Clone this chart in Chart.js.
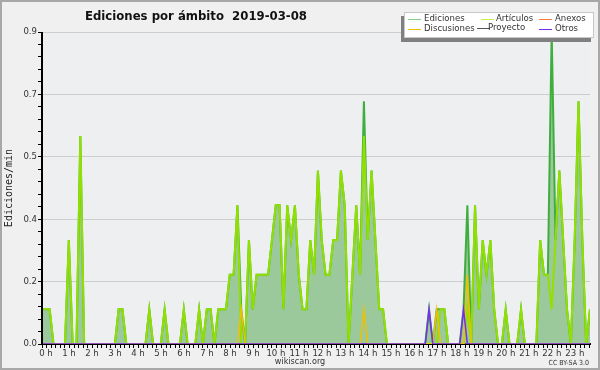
<!DOCTYPE html>
<html lang="es">
<head>
  <meta charset="UTF-8">
  <title>Ediciones por ámbito 2019-03-08</title>
  <script src="https://cdn.jsdelivr.net/npm/chart.js"></script>
  <style>
    body { margin: 0; background: #fff; }
    #wrap { width: 600px; height: 370px; }
  </style>
</head>
<body>
  <div id="wrap"><canvas id="chart" width="600" height="370"></canvas></div>

  <script>
    // 10-minute bins, 00:00 .. 23:50 (values in edits per minute)
    const hourLabels = ['0 h', '1 h', '2 h', '3 h', '4 h', '5 h', '6 h', '7 h', '8 h', '9 h', '10 h', '11 h',
                        '12 h', '13 h', '14 h', '15 h', '16 h', '17 h', '18 h', '19 h', '20 h', '21 h', '22 h', '23 h'];
    const yTickLabels = ['0.0', '0.2', '0.4', '0.5', '0.7', '0.9'];

    const ediciones = [
      0.1, 0.1, 0.1, 0, 0, 0, 0, 0.3, 0, 0, 0.6, 0,
      0, 0, 0, 0, 0, 0, 0, 0, 0.1, 0.1, 0, 0,
      0, 0, 0, 0, 0.1, 0, 0, 0, 0.1, 0, 0, 0,
      0, 0.1, 0, 0, 0, 0.1, 0, 0.1, 0.1, 0, 0.1, 0.1,
      0.1, 0.2, 0.2, 0.4, 0.1, 0, 0.3, 0.1, 0.2, 0.2, 0.2, 0.2,
      0.3, 0.4, 0.4, 0.1, 0.4, 0.3, 0.4, 0.2, 0.1, 0.1, 0.3, 0.2,
      0.5, 0.3, 0.2, 0.2, 0.3, 0.3, 0.5, 0.4, 0, 0.2, 0.4, 0.2,
      0.7, 0.3, 0.5, 0.3, 0.1, 0.1, 0, 0, 0, 0, 0, 0,
      0, 0, 0, 0, 0, 0.1, 0, 0.1, 0.1, 0.1, 0, 0,
      0, 0, 0.1, 0.4, 0, 0.4, 0.1, 0.3, 0.2, 0.3, 0.1, 0,
      0, 0.1, 0, 0, 0, 0.1, 0, 0, 0, 0, 0.3, 0.2,
      0.2, 0.9, 0.3, 0.5, 0.3, 0.1, 0, 0.3, 0.7, 0.3, 0, 0.1
    ];
    const articulos = [
      0.1, 0.1, 0.1, 0, 0, 0, 0, 0.3, 0, 0, 0.6, 0,
      0, 0, 0, 0, 0, 0, 0, 0, 0.1, 0.1, 0, 0,
      0, 0, 0, 0, 0.1, 0, 0, 0, 0.1, 0, 0, 0,
      0, 0.1, 0, 0, 0, 0.1, 0, 0.1, 0.1, 0, 0.1, 0.1,
      0.1, 0.2, 0.2, 0.4, 0, 0, 0.3, 0.1, 0.2, 0.2, 0.2, 0.2,
      0.3, 0.4, 0.4, 0.1, 0.4, 0.3, 0.4, 0.2, 0.1, 0.1, 0.3, 0.2,
      0.5, 0.3, 0.2, 0.2, 0.3, 0.3, 0.5, 0.4, 0, 0.2, 0.4, 0.2,
      0.6, 0.3, 0.5, 0.3, 0.1, 0.1, 0, 0, 0, 0, 0, 0,
      0, 0, 0, 0, 0, 0, 0, 0, 0.1, 0.1, 0, 0,
      0, 0, 0, 0.1, 0, 0.4, 0.1, 0.3, 0.2, 0.3, 0.1, 0,
      0, 0.1, 0, 0, 0, 0.1, 0, 0, 0, 0, 0.3, 0.2,
      0.2, 0.1, 0.3, 0.5, 0.3, 0.1, 0, 0.3, 0.7, 0.3, 0, 0.1
    ];
    const anexos = [
      0, 0, 0, 0, 0, 0, 0, 0, 0, 0, 0, 0,
      0, 0, 0, 0, 0, 0, 0, 0, 0, 0, 0, 0,
      0, 0, 0, 0, 0, 0, 0, 0, 0, 0, 0, 0,
      0, 0, 0, 0, 0, 0, 0, 0, 0, 0, 0, 0,
      0, 0, 0, 0, 0, 0, 0, 0, 0, 0, 0, 0,
      0, 0, 0, 0, 0, 0, 0, 0, 0, 0, 0, 0,
      0, 0, 0, 0, 0, 0, 0, 0, 0, 0, 0, 0,
      0, 0, 0, 0, 0, 0, 0, 0, 0, 0, 0, 0,
      0, 0, 0, 0, 0, 0, 0, 0, 0, 0, 0, 0,
      0, 0, 0, 0, 0, 0, 0, 0, 0, 0, 0, 0,
      0, 0, 0, 0, 0, 0, 0, 0, 0, 0, 0, 0,
      0, 0, 0, 0, 0, 0, 0, 0, 0, 0, 0, 0
    ];
    const discusiones = [
      0, 0, 0, 0, 0, 0, 0, 0, 0, 0, 0, 0,
      0, 0, 0, 0, 0, 0, 0, 0, 0, 0, 0, 0,
      0, 0, 0, 0, 0, 0, 0, 0, 0, 0, 0, 0,
      0, 0, 0, 0, 0, 0, 0, 0, 0, 0, 0, 0,
      0, 0, 0, 0, 0.1, 0, 0, 0, 0, 0, 0, 0,
      0, 0, 0, 0, 0, 0, 0, 0, 0, 0, 0, 0,
      0, 0, 0, 0, 0, 0, 0, 0, 0, 0, 0, 0,
      0.1, 0, 0, 0, 0, 0, 0, 0, 0, 0, 0, 0,
      0, 0, 0, 0, 0, 0, 0, 0.1, 0, 0, 0, 0,
      0, 0, 0, 0.2, 0, 0, 0, 0, 0, 0, 0, 0,
      0, 0, 0, 0, 0, 0, 0, 0, 0, 0, 0, 0,
      0, 0, 0, 0, 0, 0, 0, 0, 0, 0, 0, 0
    ];
    const proyecto = [
      0, 0, 0, 0, 0, 0, 0, 0, 0, 0, 0, 0,
      0, 0, 0, 0, 0, 0, 0, 0, 0, 0, 0, 0,
      0, 0, 0, 0, 0, 0, 0, 0, 0, 0, 0, 0,
      0, 0, 0, 0, 0, 0, 0, 0, 0, 0, 0, 0,
      0, 0, 0, 0, 0, 0, 0, 0, 0, 0, 0, 0,
      0, 0, 0, 0, 0, 0, 0, 0, 0, 0, 0, 0,
      0, 0, 0, 0, 0, 0, 0, 0, 0, 0, 0, 0,
      0, 0, 0, 0, 0, 0, 0, 0, 0, 0, 0, 0,
      0, 0, 0, 0, 0, 0, 0, 0, 0, 0, 0, 0,
      0, 0, 0, 0, 0, 0, 0, 0, 0, 0, 0, 0,
      0, 0, 0, 0, 0, 0, 0, 0, 0, 0, 0, 0,
      0, 0, 0, 0, 0, 0, 0, 0, 0, 0, 0, 0
    ];
    const otros = [
      0, 0, 0, 0, 0, 0, 0, 0, 0, 0, 0, 0,
      0, 0, 0, 0, 0, 0, 0, 0, 0, 0, 0, 0,
      0, 0, 0, 0, 0, 0, 0, 0, 0, 0, 0, 0,
      0, 0, 0, 0, 0, 0, 0, 0, 0, 0, 0, 0,
      0, 0, 0, 0, 0, 0, 0, 0, 0, 0, 0, 0,
      0, 0, 0, 0, 0, 0, 0, 0, 0, 0, 0, 0,
      0, 0, 0, 0, 0, 0, 0, 0, 0, 0, 0, 0,
      0, 0, 0, 0, 0, 0, 0, 0, 0, 0, 0, 0,
      0, 0, 0, 0, 0, 0.1, 0, 0, 0, 0, 0, 0,
      0, 0, 0.1, 0, 0, 0, 0, 0, 0, 0, 0, 0,
      0, 0, 0, 0, 0, 0, 0, 0, 0, 0, 0, 0,
      0, 0, 0, 0, 0, 0, 0, 0, 0, 0, 0, 0
    ];

    const binsPerHour = 6;
    const yMax = 0.9;
    const FONT = "'DejaVu Sans Condensed', 'DejaVu Sans', sans-serif";

    function toPoints(values) {
      return values.map((v, i) => ({ x: i / binsPerHour, y: v }));
    }

    function series(label, values, color, width, order, extra) {
      return Object.assign({
        label: label,
        data: toPoints(values),
        borderColor: color,
        borderWidth: width,
        pointRadius: 0,
        tension: 0,
        fill: false,
        order: order
      }, extra || {});
    }

    // legend slots: [line x, text x, baseline-ish y]
    const legendSlots = [
      [408, 424, 19], [481, 496, 19], [539, 555, 19],
      [408, 424, 29], [477, 488, 28], [539, 555, 29]
    ];

    const decorPlugin = {
      id: 'decor',
      beforeDraw(chart) {
        const { ctx, chartArea: a, width, height } = chart;
        ctx.save();
        ctx.fillStyle = '#f0f0f0';
        ctx.fillRect(0, 0, width, height);
        ctx.fillStyle = '#eeeff1';
        ctx.fillRect(a.left, a.top, a.right - a.left, a.bottom - a.top);
        ctx.restore();
      },
      afterDatasetsDraw(chart) {
        const { ctx, chartArea: a } = chart;
        ctx.save();
        ctx.strokeStyle = '#000';
        ctx.lineWidth = 2;
        ctx.beginPath();
        ctx.moveTo(a.left, a.top);
        ctx.lineTo(a.left, a.bottom + 1);
        ctx.stroke();
        ctx.restore();
      },
      afterDraw(chart) {
        const { ctx, width, height } = chart;
        ctx.save();

        // title
        ctx.fillStyle = '#111';
        ctx.font = 'bold 13px ' + FONT;
        ctx.textBaseline = 'middle';
        ctx.textAlign = 'left';
        ctx.fillText('Ediciones por ámbito  2019-03-08', 85, 17);

        // legend box with shadow
        ctx.fillStyle = '#808080';
        ctx.fillRect(401, 16, 190, 26);
        ctx.fillStyle = '#fff';
        ctx.fillRect(404, 12, 190, 26);
        ctx.strokeStyle = '#c8c8c8';
        ctx.lineWidth = 1;
        ctx.strokeRect(404.5, 12.5, 189, 25);

        ctx.font = '9.5px ' + FONT;
        chart.data.datasets.forEach((ds, i) => {
          const [lx, tx, ly] = legendSlots[i];
          ctx.strokeStyle = ds.legendColor || ds.borderColor;
          ctx.lineWidth = 1;
          ctx.beginPath();
          ctx.moveTo(lx, ly + 0.5);
          ctx.lineTo(lx + 13, ly + 0.5);
          ctx.stroke();
          ctx.fillStyle = '#333';
          ctx.fillText(ds.label, tx, ly);
        });

        // footer
        ctx.fillStyle = '#333';
        ctx.font = '9px ' + FONT;
        ctx.textAlign = 'center';
        ctx.fillText('wikiscan.org', 300, 362);
        ctx.font = '7px ' + FONT;
        ctx.textAlign = 'right';
        ctx.fillText('CC BY-SA 3.0', 589, 363);

        // outer frame
        ctx.strokeStyle = '#a8a8a8';
        ctx.lineWidth = 2;
        ctx.strokeRect(1, 1, width - 2, height - 2);
        ctx.restore();
      }
    };

    Chart.defaults.font.family = FONT;

    new Chart(document.getElementById('chart').getContext('2d'), {
      type: 'line',
      data: {
        datasets: [
          series('Ediciones', ediciones, '#3fae3f', 2, 6,
            { fill: 'origin', backgroundColor: '#9cc99c', legendColor: '#7fd17f' }),
          series('Artículos', articulos, '#92e000', 2, 3, { legendColor: '#c6f04a' }),
          series('Anexos', anexos, '#ff7744', 1.5, 5),
          series('Discusiones', discusiones, '#f0c000', 1.5, 2),
          series('Proyecto', proyecto, '#555555', 1.5, 4),
          series('Otros', otros, '#7a2cf0', 1.5, 1)
        ]
      },
      options: {
        responsive: false,
        animation: false,
        devicePixelRatio: 1,
        layout: { padding: { top: 32, right: 10, bottom: 0, left: 0 } },
        plugins: {
          legend: { display: false },
          tooltip: { enabled: false }
        },
        scales: {
          x: {
            type: 'linear',
            min: 0,
            max: (ediciones.length - 1) / binsPerHour,
            z: 1,
            afterFit(scale) { scale.height = 26; },
            afterBuildTicks(scale) {
              const ticks = [];
              for (let i = 0; i * 0.2 <= scale.max + 1e-9; i++) ticks.push({ value: i / 5 });
              scale.ticks = ticks;
            },
            grid: { drawOnChartArea: false, tickLength: 4, tickColor: '#000', tickWidth: 1 },
            border: { display: true, color: '#000', width: 2 },
            ticks: {
              autoSkip: false,
              maxRotation: 0,
              minRotation: 0,
              padding: 0,
              labelOffset: 4,
              color: '#333',
              font: { size: 9.5 },
              callback: (value, index) => index % 5 === 0 ? hourLabels[index / 5] : ''
            }
          },
          y: {
            min: 0,
            max: yMax,
            afterFit(scale) { scale.width = 42; },
            afterBuildTicks(scale) {
              const ticks = [];
              for (let i = 0; i <= 25; i++) ticks.push({ value: i * yMax / 25 });
              scale.ticks = ticks;
            },
            grid: {
              color: c => (c.index % 5 === 0 && c.index > 0) ? '#cdcdcd' : 'rgba(0,0,0,0)',
              tickColor: '#000',
              tickLength: 4,
              lineWidth: 1
            },
            border: { display: false },
            title: {
              display: true,
              text: 'Ediciones/min',
              color: '#222',
              font: { family: "'DejaVu Sans Mono', monospace", size: 10 },
              padding: { top: 3, bottom: 0 }
            },
            ticks: {
              autoSkip: false,
              padding: 1,
              color: '#333',
              font: { size: 9.5 },
              callback: (value, index) => index % 5 === 0 ? yTickLabels[index / 5] : ''
            }
          }
        }
      },
      plugins: [decorPlugin]
    });
  </script>
</body>
</html>
